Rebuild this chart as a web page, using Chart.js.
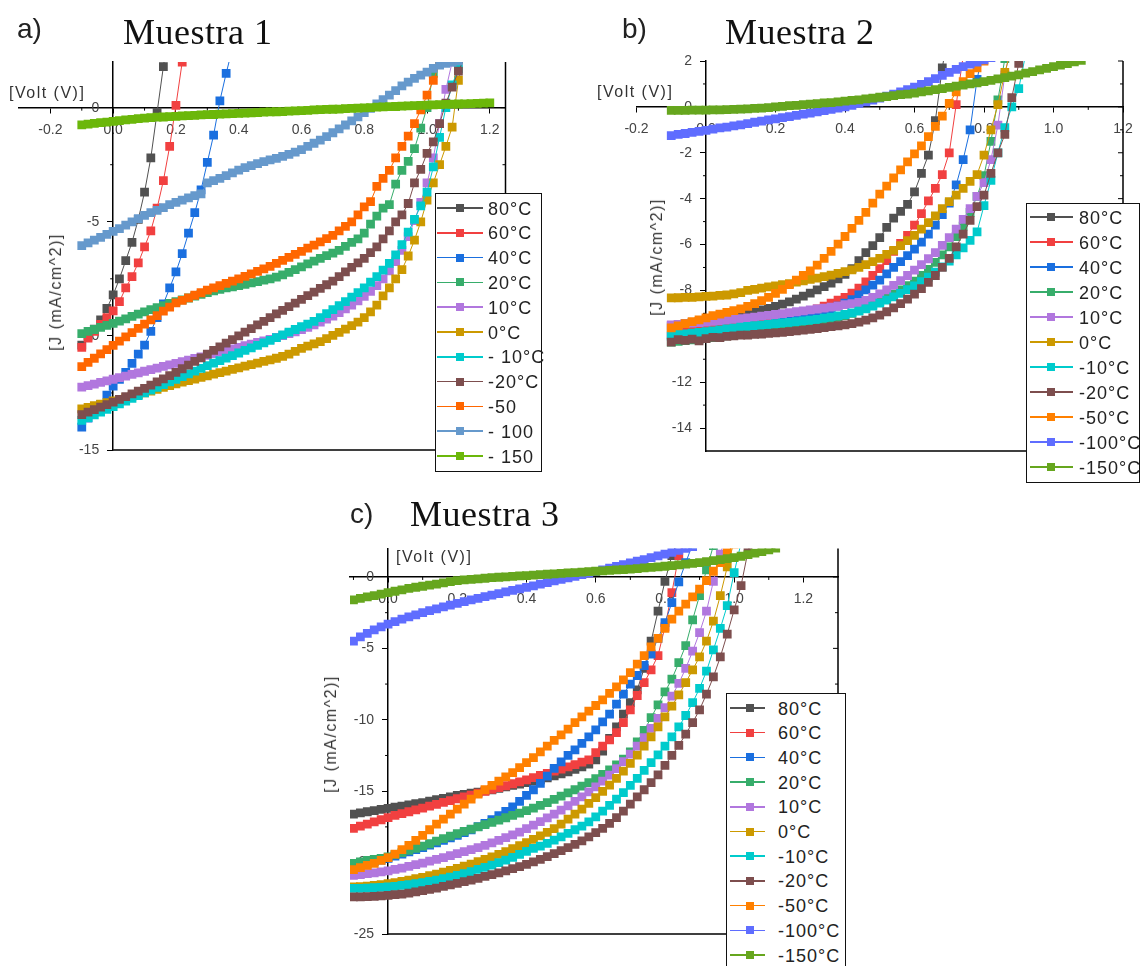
<!DOCTYPE html>
<html lang="es">
<head>
<meta charset="utf-8">
<title>Curvas J-V por temperatura</title>
<script src="https://cdn.jsdelivr.net/npm/chart.js@4.4.1/dist/chart.umd.min.js"></script>
<style>
  html, body { margin: 0; background: #fff; }
  #fig { position: relative; width: 1143px; height: 966px; overflow: hidden; font-family: Arial, "Liberation Sans", sans-serif; color: #222; }
  #fig canvas { position: absolute; }
  .tag { position: absolute; font-size: 28px; line-height: 1; color: #222; }
  .muestra { position: absolute; font-family: "Liberation Serif", "Times New Roman", serif; font-size: 36px; letter-spacing: 0.5px; line-height: 1; color: #111; }
  .xt { position: absolute; font-size: 16px; letter-spacing: 1.5px; line-height: 1; color: #333; white-space: nowrap; }
  .yt { position: absolute; font-size: 16px; letter-spacing: 1.5px; line-height: 1; color: #333; white-space: nowrap; transform: translate(-50%, -50%) rotate(-90deg); }
  .leyenda { position: absolute; box-sizing: border-box; border: 1.5px solid #111; background: #fff; }
  .leyenda .ln { position: absolute; height: 1.5px; }
  .leyenda .mk { position: absolute; width: 8px; height: 8px; }
  .leyenda .tx { position: absolute; font-size: 18px; letter-spacing: 1px; line-height: 1; white-space: nowrap; color: #222; }
</style>
</head>
<body>
<div id="fig">
  <canvas id="cA" width="560" height="440" style="left:0;top:40px"></canvas>
  <canvas id="cB" width="563" height="440" style="left:580px;top:40px"></canvas>
  <canvas id="cC" width="560" height="446" style="left:300px;top:520px"></canvas>

  <div class="tag" style="left:17px;top:15px">a)</div>
  <div class="muestra" style="left:123px;top:14px">Muestra 1</div>
  <div class="tag" style="left:622px;top:15px">b)</div>
  <div class="muestra" style="left:725px;top:14px">Muestra 2</div>
  <div class="tag" style="left:350px;top:500px">c)</div>
  <div class="muestra" style="left:410px;top:496px">Muestra 3</div>

  <div class="xt" style="left:9px;top:85px">[Volt (V)]</div>
  <div class="xt" style="left:597px;top:84px">[Volt (V)]</div>
  <div class="xt" style="left:396px;top:549px">[Volt (V)]</div>
  <div class="yt" style="left:56px;top:292px">[J (mA/cm^2)]</div>
  <div class="yt" style="left:657px;top:257px">[J (mA/cm^2)]</div>
  <div class="yt" style="left:331px;top:734px">[J (mA/cm^2)]</div>
</div>

<script>
// voltage sweep shared by every curve (V), each J array starts at -0.10 V
const voltage = [
  -0.10, -0.08, -0.06, -0.04, -0.02,
   0.00,  0.02,  0.04,  0.06,  0.08,
   0.10,  0.12,  0.14,  0.16,  0.18,
   0.20,  0.22,  0.24,  0.26,  0.28,
   0.30,  0.32,  0.34,  0.36,  0.38,
   0.40,  0.42,  0.44,  0.46,  0.48,
   0.50,  0.52,  0.54,  0.56,  0.58,
   0.60,  0.62,  0.64,  0.66,  0.68,
   0.70,  0.72,  0.74,  0.76,  0.78,
   0.80,  0.82,  0.84,  0.86,  0.88,
   0.90,  0.92,  0.94,  0.96,  0.98,
   1.00,  1.02,  1.04,  1.06,  1.08,
   1.10,  1.12,  1.14,  1.16,  1.18,
   1.20
];

// tick positions
const ticksV  = [-0.2, -0.1, 0, 0.1, 0.2, 0.3, 0.4, 0.5, 0.6, 0.7, 0.8, 0.9, 1.0, 1.1, 1.2];
const ticksJ1 = [-15, -12.5, -10, -7.5, -5, -2.5, 0];
const ticksJ2 = [-14, -13, -12, -11, -10, -9, -8, -7, -6, -5, -4, -3, -2, -1, 0, 1, 2];
const ticksJ3 = [-25, -22.5, -20, -17.5, -15, -12.5, -10, -7.5, -5, -2.5, 0];

// ---------- Muestra 1 : J (mA/cm^2) ----------
const m1_80 = [-10.4, -10.0, -9.7, -9.3, -8.8, -8.2, -7.5, -6.7, -5.9, -4.9, -3.7, -2.2, -0.2, 1.8, 3.6];
const m1_60 = [-10.5, -10.1, -9.8, -9.5, -9.2, -8.9, -8.5, -7.9, -7.4, -6.8, -6.1, -5.4, -4.4, -3.2, -1.7, 0.1, 2.0, 3.8];
const m1_40 = [-14.0, -13.6, -13.3, -13.0, -12.6, -12.2, -11.9, -11.6, -11.2, -10.8, -10.4, -9.8, -9.2, -8.6, -7.9,
  -7.2, -6.4, -5.5, -4.6, -3.6, -2.4, -1.2, 0.3, 1.5, 2.6];
const m1_20 = [-9.9, -9.8, -9.72, -9.63, -9.54, -9.45, -9.35, -9.25, -9.15, -9.05, -8.95, -8.85, -8.76, -8.67, -8.58,
  -8.5, -8.42, -8.34, -8.26, -8.18, -8.1, -8.03, -7.96, -7.9, -7.85, -7.8, -7.74, -7.68, -7.62, -7.56,
  -7.5, -7.43, -7.33, -7.22, -7.1, -6.98, -6.85, -6.72, -6.6, -6.48, -6.37, -6.25, -6.08, -5.9, -5.75,
  -5.5, -5.1, -4.75, -4.4, -4.25, -3.35, -2.75, -2.35, -1.8, -0.9, 0.0, 1.5, 2.6];
const m1_10 = [-12.25, -12.18, -12.11, -12.04, -11.97, -11.9, -11.83, -11.76, -11.69, -11.62, -11.55, -11.48, -11.41, -11.34, -11.27,
  -11.2, -11.13, -11.06, -10.99, -10.92, -10.85, -10.78, -10.71, -10.64, -10.57, -10.5, -10.43, -10.36, -10.29, -10.22,
  -10.15, -10.07, -9.99, -9.9, -9.82, -9.73, -9.63, -9.52, -9.4, -9.27, -9.13, -8.98, -8.82, -8.65, -8.47,
  -8.27, -8.05, -7.8, -7.5, -7.15, -6.75, -6.25, -5.65, -4.95, -4.15, -3.3, -2.2, -0.7, 0.8, 2.0];
const m1_0 = [-13.2, -13.13, -13.06, -12.99, -12.92, -12.85, -12.78, -12.71, -12.64, -12.57, -12.5, -12.42, -12.34, -12.26, -12.18,
  -12.1, -12.03, -11.96, -11.89, -11.82, -11.75, -11.68, -11.61, -11.54, -11.47, -11.4, -11.33, -11.26, -11.19, -11.12,
  -11.05, -10.98, -10.9, -10.8, -10.68, -10.55, -10.45, -10.35, -10.25, -10.12, -9.98, -9.85, -9.7, -9.55, -9.4,
  -9.2, -8.95, -8.65, -8.25, -7.9, -7.5, -7.1, -6.5, -5.8, -5.0, -4.05, -3.3, -2.5, -1.7, -0.85, 1.2, 2.5];
const m1_n10 = [-13.7, -13.58, -13.46, -13.34, -13.22, -13.1, -12.98, -12.86, -12.74, -12.62, -12.5, -12.38, -12.26, -12.14, -12.02,
  -11.9, -11.78, -11.66, -11.54, -11.42, -11.3, -11.19, -11.08, -10.97, -10.86, -10.75, -10.64, -10.53, -10.42, -10.31,
  -10.2, -10.08, -9.96, -9.84, -9.72, -9.6, -9.48, -9.36, -9.2, -9.02, -8.85, -8.68, -8.5, -8.3, -8.1,
  -7.9, -7.65, -7.4, -7.12, -6.82, -6.45, -6.0, -5.45, -4.9, -4.3, -3.7, -2.6, -1.3, 0.0, 1.0, 1.7, 2.4];
const m1_n20 = [-13.45, -13.34, -13.23, -13.12, -13.01, -12.9, -12.78, -12.66, -12.54, -12.42, -12.3, -12.16, -12.02, -11.88, -11.74,
  -11.6, -11.44, -11.28, -11.12, -10.96, -10.8, -10.64, -10.48, -10.32, -10.16, -10.0, -9.84, -9.68, -9.52, -9.36,
  -9.2, -9.04, -8.88, -8.72, -8.56, -8.4, -8.24, -8.08, -7.92, -7.76, -7.6, -7.4, -7.2, -7.0, -6.8,
  -6.6, -6.35, -6.1, -5.75, -5.4, -5.0, -4.7, -4.2, -3.3, -2.7, -2.0, -1.5, -0.7, 0.2, 0.9, 1.6, 2.2];
const m1_n50 = [-11.35, -11.16, -10.98, -10.79, -10.6, -10.42, -10.23, -10.04, -9.86, -9.67, -9.48, -9.3, -9.11, -8.92, -8.74,
  -8.55, -8.44, -8.33, -8.22, -8.11, -8.0, -7.9, -7.8, -7.7, -7.6, -7.5, -7.39, -7.28, -7.17, -7.06,
  -6.95, -6.82, -6.69, -6.56, -6.43, -6.3, -6.16, -6.02, -5.88, -5.74, -5.6, -5.4, -5.2, -5.0, -4.7,
  -4.35, -4.12, -3.45, -3.1, -2.75, -2.2, -1.7, -1.25, -0.7, -0.1, 0.55, 1.2, 1.9, 2.6];
const m1_n100 = [-6.05, -5.92, -5.8, -5.68, -5.55, -5.42, -5.3, -5.15, -5.0, -4.86, -4.72, -4.6, -4.5, -4.38, -4.25,
  -4.15, -4.05, -3.95, -3.85, -3.78, -3.3, -3.2, -3.1, -2.98, -2.86, -2.74, -2.63, -2.54, -2.45, -2.37,
  -2.29, -2.22, -2.14, -2.05, -1.95, -1.84, -1.7, -1.56, -1.42, -1.27, -1.1, -0.93, -0.76, -0.58, -0.4,
  -0.22, -0.03, 0.16, 0.35, 0.55, 0.75, 0.95, 1.12, 1.28, 1.42, 1.56, 1.72, 1.86, 1.94, 2.0, 2.05];
const m1_n150 = [-0.75, -0.72, -0.69, -0.66, -0.63, -0.6, -0.57, -0.54, -0.51, -0.48, -0.46, -0.44, -0.42, -0.41, -0.39,
  -0.38, -0.36, -0.35, -0.34, -0.32, -0.31, -0.3, -0.28, -0.27, -0.26, -0.25, -0.24, -0.23, -0.22, -0.2,
  -0.19, -0.18, -0.17, -0.15, -0.14, -0.13, -0.12, -0.1, -0.09, -0.08, -0.07, -0.06, -0.04, -0.03, -0.02,
  -0.01, 0.0, 0.02, 0.03, 0.04, 0.05, 0.07, 0.08, 0.09, 0.1, 0.11, 0.12, 0.13, 0.14, 0.15,
  0.16, 0.17, 0.18, 0.19, 0.2, 0.21];

// ---------- Muestra 2 ----------
const m2_80 = [-9.55, -9.5, -9.45, -9.4, -9.35, -9.3, -9.25, -9.2, -9.15, -9.1, -9.05, -9.0, -8.93, -8.85, -8.78,
  -8.7, -8.6, -8.5, -8.38, -8.25, -8.12, -7.98, -7.83, -7.68, -7.5, -7.3, -7.05, -6.7, -6.35, -6.05,
  -5.7, -5.25, -4.85, -4.55, -4.25, -3.7, -2.9, -2.1, -0.6, 1.7, 3.5];
const m2_60 = [-9.9, -9.86, -9.82, -9.78, -9.74, -9.7, -9.66, -9.62, -9.58, -9.54, -9.5, -9.44, -9.38, -9.32, -9.26,
  -9.2, -9.14, -9.08, -9.02, -8.96, -8.9, -8.8, -8.68, -8.55, -8.42, -8.3, -8.12, -7.9, -7.63, -7.35,
  -7.05, -6.7, -6.3, -5.95, -5.6, -5.15, -4.65, -4.1, -3.55, -2.95, -2.0, 0.1, 2.2];
const m2_40 = [-10.0, -9.97, -9.94, -9.91, -9.88, -9.85, -9.82, -9.79, -9.76, -9.73, -9.7, -9.65, -9.6, -9.55, -9.5,
  -9.45, -9.38, -9.31, -9.24, -9.17, -9.1, -9.0, -8.9, -8.8, -8.68, -8.55, -8.4, -8.2, -7.98, -7.77,
  -7.55, -7.28, -7.0, -6.75, -6.48, -6.2, -5.9, -5.55, -5.15, -4.7, -4.2, -3.4, -2.3, -1.0, 1.2, 2.6];
const m2_20 = [-10.25, -10.22, -10.19, -10.16, -10.13, -10.1, -10.06, -10.02, -9.98, -9.94, -9.9, -9.86, -9.82, -9.78, -9.74,
  -9.7, -9.65, -9.6, -9.55, -9.5, -9.45, -9.38, -9.31, -9.24, -9.17, -9.1, -9.0, -8.88, -8.76, -8.63,
  -8.5, -8.33, -8.16, -7.98, -7.79, -7.6, -7.35, -7.08, -6.78, -6.45, -6.1, -5.65, -5.2, -4.6, -3.9,
  -3.0, -1.5, 0.3, 2.1];
const m2_10 = [-9.5, -9.48, -9.45, -9.43, -9.4, -9.38, -9.35, -9.32, -9.29, -9.26, -9.23, -9.2, -9.16, -9.12, -9.09,
  -9.05, -9.01, -8.97, -8.93, -8.89, -8.85, -8.81, -8.77, -8.73, -8.69, -8.62, -8.58, -8.52, -8.43, -8.3,
  -8.15, -7.98, -7.78, -7.57, -7.35, -7.12, -6.88, -6.62, -6.35, -6.04, -5.7, -5.33, -4.9, -4.43, -3.9,
  -3.3, -2.3, -0.8, 1.4, 2.8];
const m2_0 = [-8.33, -8.32, -8.3, -8.3, -8.28, -8.26, -8.25, -8.22, -8.2, -8.15, -8.1, -8.0, -7.95, -7.9, -7.85,
  -7.8, -7.75, -7.7, -7.64, -7.58, -7.52, -7.46, -7.4, -7.33, -7.26, -7.18, -7.1, -7.0, -6.88, -6.75,
  -6.6, -6.43, -6.25, -6.05, -5.83, -5.6, -5.33, -5.05, -4.75, -4.43, -4.13, -3.85, -3.55, -3.25, -2.95,
  -2.1, -1.0, 0.1, 1.5, 2.6];
const m2_n10 = [-9.95, -9.92, -9.89, -9.86, -9.83, -9.8, -9.76, -9.72, -9.68, -9.64, -9.6, -9.57, -9.54, -9.51, -9.48,
  -9.45, -9.42, -9.39, -9.36, -9.33, -9.3, -9.26, -9.21, -9.16, -9.11, -9.05, -8.98, -8.9, -8.8, -8.68,
  -8.55, -8.42, -8.28, -8.13, -7.97, -7.8, -7.62, -7.42, -7.2, -6.97, -6.72, -6.45, -6.15, -5.82, -5.45,
  -4.3, -3.2, -2.0, -0.9, 0.0, 0.8, 2.3];
const m2_n20 = [-10.25, -10.15, -10.18, -10.12, -10.2, -10.1, -10.05, -10.06, -10.0, -9.98, -9.95, -9.95, -9.92, -9.9, -9.87,
  -9.85, -9.83, -9.8, -9.76, -9.73, -9.7, -9.66, -9.62, -9.58, -9.54, -9.5, -9.45, -9.38, -9.3, -9.2,
  -9.08, -8.93, -8.76, -8.58, -8.38, -8.16, -7.92, -7.65, -7.35, -7.0, -6.6, -6.1, -5.55, -4.95, -4.35,
  -3.85, -2.9, -2.0, -1.2, 0.4, 1.9, 3.0];
const m2_n50 = [-9.63, -9.55, -9.45, -9.36, -9.28, -9.2, -9.1, -9.03, -8.96, -8.88, -8.8, -8.7, -8.58, -8.45, -8.3,
  -8.13, -7.95, -7.75, -7.55, -7.35, -7.15, -6.9, -6.6, -6.3, -5.98, -5.65, -5.3, -4.95, -4.6, -4.2,
  -3.8, -3.45, -3.1, -2.75, -2.4, -2.05, -1.7, -1.3, -0.85, -0.4, 0.15, 0.65, 1.1, 1.45, 1.7,
  2.0, 2.3];
const m2_n100 = [-1.25, -1.2, -1.16, -1.11, -1.07, -1.02, -0.97, -0.92, -0.88, -0.83, -0.78, -0.73, -0.67, -0.62, -0.57,
  -0.52, -0.47, -0.42, -0.37, -0.32, -0.27, -0.22, -0.16, -0.11, -0.05, 0.0, 0.07, 0.15, 0.22, 0.3,
  0.38, 0.47, 0.56, 0.65, 0.75, 0.86, 0.98, 1.1, 1.23, 1.37, 1.5, 1.63, 1.75, 1.86, 1.95,
  2.05, 2.15];
const m2_n150 = [-0.15, -0.15, -0.15, -0.14, -0.14, -0.14, -0.13, -0.13, -0.12, -0.11, -0.1, -0.09, -0.07, -0.05, -0.03,
  0.0, 0.02, 0.05, 0.07, 0.1, 0.12, 0.14, 0.17, 0.19, 0.22, 0.25, 0.28, 0.31, 0.35, 0.38,
  0.42, 0.45, 0.49, 0.53, 0.56, 0.6, 0.65, 0.7, 0.75, 0.8, 0.85, 0.9, 0.95, 1.0, 1.05,
  1.1, 1.16, 1.22, 1.28, 1.34, 1.4, 1.47, 1.54, 1.61, 1.68, 1.75, 1.82, 1.89, 1.96, 2.03];

// ---------- Muestra 3 ----------
const m3_80 = [-16.6, -16.52, -16.44, -16.36, -16.28, -16.2, -16.12, -16.04, -15.96, -15.88, -15.8, -15.7, -15.6, -15.5, -15.4,
  -15.3, -15.22, -15.14, -15.06, -14.98, -14.9, -14.8, -14.7, -14.6, -14.5, -14.4, -14.3, -14.2, -14.06, -13.92,
  -13.78, -13.64, -13.48, -13.3, -13.1, -12.8, -12.2, -11.3, -10.5, -9.6, -8.8, -7.9, -6.4, -4.5, -2.4,
  -0.3, 1.5, 2.8];
const m3_60 = [-17.6, -17.45, -17.3, -17.15, -17.0, -16.85, -16.7, -16.57, -16.44, -16.31, -16.18, -16.05, -15.92, -15.79, -15.66,
  -15.53, -15.4, -15.27, -15.14, -15.01, -14.88, -14.75, -14.62, -14.48, -14.34, -14.2, -14.05, -13.9, -13.75, -13.6,
  -13.45, -13.3, -13.14, -12.97, -12.8, -12.3, -11.85, -11.4, -10.9, -10.2, -9.3, -8.3, -7.4, -6.5, -5.5,
  -3.5, -1.1, 1.5, 3.0];
const m3_40 = [-20.3, -20.18, -20.06, -19.94, -19.82, -19.7, -19.55, -19.4, -19.25, -19.1, -18.95, -18.78, -18.61, -18.44, -18.27,
  -18.1, -17.9, -17.7, -17.48, -17.25, -17.0, -16.72, -16.42, -16.1, -15.72, -15.3, -14.9, -14.45, -13.95, -13.4,
  -12.95, -12.5, -12.1, -11.65, -11.2, -10.7, -10.15, -9.6, -8.9, -8.2, -7.5, -6.9, -6.2, -5.4, -4.3,
  -3.2, -1.8, -0.35, 1.0, 2.3];
const m3_20 = [-20.05, -19.95, -19.85, -19.78, -19.7, -19.6, -19.45, -19.3, -19.15, -19.0, -18.85, -18.68, -18.5, -18.32, -18.15,
  -17.98, -17.82, -17.66, -17.5, -17.34, -17.18, -17.02, -16.86, -16.7, -16.53, -16.36, -16.18, -16.0, -15.8, -15.58,
  -15.35, -15.12, -14.9, -14.65, -14.4, -14.12, -13.82, -13.5, -13.15, -12.75, -12.25, -11.55, -10.75, -9.85, -8.95,
  -8.05, -7.15, -6.0, -4.8, -3.0, -1.3, 0.5, 2.2];
const m3_10 = [-20.9, -20.85, -20.78, -20.72, -20.65, -20.58, -20.48, -20.38, -20.27, -20.15, -20.03, -19.9, -19.78, -19.65, -19.52,
  -19.38, -19.24, -19.1, -18.95, -18.8, -18.62, -18.44, -18.25, -18.06, -17.86, -17.62, -17.38, -17.13, -16.87, -16.6,
  -16.32, -16.02, -15.72, -15.4, -15.05, -14.7, -14.3, -13.88, -13.42, -12.93, -12.4, -11.85, -11.25, -10.6, -9.9,
  -9.15, -8.35, -7.45, -6.4, -5.2, -3.9, -2.4, -0.3, 1.6, 3.2];
const m3_0 = [-21.7, -21.68, -21.65, -21.6, -21.55, -21.48, -21.4, -21.32, -21.23, -21.13, -21.03, -20.92, -20.8, -20.67, -20.54,
  -20.4, -20.25, -20.1, -19.94, -19.78, -19.6, -19.42, -19.23, -19.03, -18.82, -18.6, -18.37, -18.13, -17.88, -17.62,
  -17.3, -16.95, -16.6, -16.25, -15.85, -15.45, -15.02, -14.57, -14.1, -13.6, -13.05, -12.47, -11.85, -11.2, -10.5,
  -9.8, -9.05, -8.25, -7.4, -6.5, -5.6, -4.5, -3.1, -1.3, 0.7, 2.5];
const m3_n10 = [-21.8, -21.8, -21.78, -21.76, -21.73, -21.7, -21.66, -21.6, -21.54, -21.47, -21.4, -21.32, -21.23, -21.13, -21.02,
  -20.9, -20.77, -20.63, -20.48, -20.33, -20.17, -20.0, -19.82, -19.63, -19.43, -19.22, -19.0, -18.85, -18.65, -18.43,
  -18.2, -17.95, -17.7, -17.45, -17.15, -16.8, -16.4, -16.0, -15.55, -15.1, -14.6, -14.1, -13.55, -13.0, -12.45,
  -11.85, -11.2, -10.5, -9.7, -8.8, -7.8, -6.6, -5.1, -3.6, -2.0, 0.3, 2.4];
const m3_n20 = [-22.4, -22.4, -22.38, -22.36, -22.33, -22.3, -22.25, -22.2, -22.13, -22.05, -21.97, -21.88, -21.78, -21.67, -21.56,
  -21.45, -21.34, -21.22, -21.1, -20.97, -20.85, -20.72, -20.58, -20.43, -20.28, -20.12, -19.95, -19.77, -19.58, -19.38,
  -19.17, -18.95, -18.72, -18.48, -18.2, -17.9, -17.6, -17.25, -16.85, -16.4, -15.9, -15.4, -14.9, -14.4, -13.85,
  -13.2, -12.5, -11.8, -11.0, -10.2, -9.3, -8.2, -7.0, -5.6, -4.0, -2.3, -0.6, 1.8, 3.2];
const m3_n50 = [-20.5, -20.35, -20.2, -20.05, -19.85, -19.65, -19.4, -19.1, -18.8, -18.45, -18.1, -17.7, -17.3, -16.95, -16.6,
  -16.25, -15.9, -15.55, -15.2, -14.9, -14.6, -14.3, -14.0, -13.7, -13.35, -13.0, -12.65, -12.25, -11.85, -11.45,
  -11.05, -10.65, -10.2, -9.8, -9.4, -9.0, -8.6, -8.15, -7.7, -7.2, -6.7, -6.1, -5.5, -4.9, -4.3,
  -3.6, -2.95, -2.4, -1.9, -1.4, -0.85, -0.25, 0.4, 1.0, 1.7, 2.3];
const m3_n100 = [-4.5, -4.2, -3.95, -3.7, -3.5, -3.3, -3.12, -2.95, -2.8, -2.65, -2.5, -2.36, -2.23, -2.1, -1.97,
  -1.85, -1.73, -1.61, -1.5, -1.38, -1.27, -1.16, -1.05, -0.94, -0.84, -0.73, -0.62, -0.5, -0.4, -0.28,
  -0.17, -0.06, 0.05, 0.16, 0.27, 0.38, 0.5, 0.62, 0.74, 0.86, 0.98, 1.1, 1.22, 1.35, 1.48,
  1.6, 1.73, 1.86, 2.0, 2.12];
const m3_n150 = [-1.6, -1.5, -1.4, -1.3, -1.2, -1.1, -1.0, -0.9, -0.8, -0.72, -0.65, -0.57, -0.5, -0.42, -0.33,
  -0.25, -0.21, -0.17, -0.13, -0.09, -0.05, -0.02, 0.01, 0.04, 0.07, 0.1, 0.13, 0.16, 0.19, 0.22,
  0.25, 0.28, 0.31, 0.34, 0.37, 0.4, 0.43, 0.46, 0.49, 0.52, 0.55, 0.59, 0.63, 0.67, 0.71,
  0.75, 0.8, 0.85, 0.9, 0.95, 1.0, 1.07, 1.14, 1.21, 1.28, 1.35, 1.45, 1.56, 1.67, 1.78,
  1.9, 2.02];

// legend texts and colours
const nombresA = ['80°C', '60°C', '40°C', '20°C', '10°C', '0°C', '- 10°C', '-20°C', '-50', '- 100', '- 150'];
const nombresBC = ['80°C', '60°C', '40°C', '20°C', '10°C', '0°C', '-10°C', '-20°C', '-50°C', '-100°C', '-150°C'];
const coloresA = ['#515151', '#F14040', '#1A6FDF', '#37AD6B', '#B177DE', '#CC9900', '#00CBCC', '#7D4E4E', '#FF6600', '#6699CC', '#6BB70A'];
const coloresBC = ['#515151', '#F14040', '#1A6FDF', '#37AD6B', '#B177DE', '#CC9900', '#00CBCC', '#7D4E4E', '#FF8000', '#5F6DFF', '#66A61E'];

const panels = [
  {
    id: 'cA', names: nombresA, colors: coloresA,
    series: [m1_80, m1_60, m1_40, m1_20, m1_10, m1_0, m1_n10, m1_n20, m1_n50, m1_n100, m1_n150],
    xRange: [-0.3, 1.25], yRange: [-15, 2], yTicks: ticksJ1, yEvery: 5,
    padding: { left: 19, right: 54.5, top: 22, bottom: 30 },
    legend: { left: 435, top: 193, width: 107, height: 279, first: 14, step: 24.8, line: [1, 47], mark: 24, text: 52 }
  },
  {
    id: 'cB', names: nombresBC, colors: coloresBC,
    series: [m2_80, m2_60, m2_40, m2_20, m2_10, m2_0, m2_n10, m2_n20, m2_n50, m2_n100, m2_n150],
    xRange: [-0.2, 1.2], yRange: [-15, 2], yTicks: ticksJ2, yEvery: 2,
    padding: { left: 56.5, right: 20, top: 21, bottom: 29 },
    legend: { left: 1026, top: 203, width: 114, height: 280, first: 13, step: 25, line: [3, 46], mark: 24, text: 52 }
  },
  {
    id: 'cC', names: nombresBC, colors: coloresBC,
    series: [m3_80, m3_60, m3_40, m3_20, m3_10, m3_0, m3_n10, m3_n20, m3_n50, m3_n100, m3_n150],
    xRange: [-0.11, 1.3], yRange: [-25, 2], yTicks: ticksJ3, yEvery: 5,
    padding: { left: 50, right: 22, top: 28.4, bottom: 32 },
    legend: { left: 726, top: 693, width: 120, height: 290, first: 14, step: 24.7, line: [3, 38], mark: 23, text: 51 }
  }
];

function curve(j) {
  return j.map((v, i) => ({ x: voltage[i], y: v }));
}

// a tick is "major" when the scale gives it a label
const isMajor = t => t && t.label !== '' && t.label !== undefined;
const majorColor = c => (isMajor(c.tick) ? '#000' : 'rgba(0,0,0,0)');

// bottom and right spines, short minor ticks, inward ticks on the right spine
const frame = {
  id: 'frame',
  beforeDatasetsDraw(chart) {
    const { ctx, chartArea: a, scales: { x, y } } = chart;
    const x0 = x.getPixelForValue(0);
    const y0 = y.getPixelForValue(0);
    ctx.save();
    ctx.strokeStyle = '#000';
    ctx.lineWidth = 1.5;
    ctx.beginPath();
    ctx.moveTo(x0, a.bottom);
    ctx.lineTo(a.right, a.bottom);
    ctx.lineTo(a.right, a.top);
    ctx.stroke();
    ctx.lineWidth = 1;
    ctx.beginPath();
    y.ticks.forEach(t => {
      const py = y.getPixelForValue(t.value);
      ctx.moveTo(a.right, py);
      ctx.lineTo(a.right - (isMajor(t) ? 5 : 3), py);
      if (!isMajor(t)) {
        ctx.moveTo(x0, py);
        ctx.lineTo(x0 - 3, py);
      }
    });
    x.ticks.forEach(t => {
      if (isMajor(t)) return;
      const px = x.getPixelForValue(t.value);
      ctx.moveTo(px, y0);
      ctx.lineTo(px, y0 + 3);
    });
    ctx.stroke();
    ctx.restore();
  }
};

const tickFont = { family: 'Arial, "Liberation Sans", sans-serif', size: 14 };
const gap = '\u2002\u2002';

function leyenda(chart, box) {
  const caja = document.createElement('div');
  caja.className = 'leyenda';
  caja.style.cssText = `left:${box.left}px;top:${box.top}px;width:${box.width}px;height:${box.height}px`;
  chart.data.datasets.forEach((ds, i) => {
    const cy = box.first + i * box.step;
    const ln = document.createElement('div');
    ln.className = 'ln';
    ln.style.cssText = `left:${box.line[0]}px;width:${box.line[1] - box.line[0]}px;top:${cy - 0.75}px;background:${ds.borderColor}`;
    const mk = document.createElement('div');
    mk.className = 'mk';
    mk.style.cssText = `left:${box.mark - 4}px;top:${cy - 4}px;background:${ds.borderColor}`;
    const tx = document.createElement('div');
    tx.className = 'tx';
    tx.style.cssText = `left:${box.text}px;top:${cy - 8.5}px`;
    tx.textContent = ds.label;
    caja.append(ln, mk, tx);
  });
  document.getElementById('fig').appendChild(caja);
}

panels.forEach(p => {
  const n = p.series.length;
  const datasets = p.series.map((s, i) => ({
    label: p.names[i],
    data: curve(s),
    showLine: true,
    borderColor: p.colors[i],
    backgroundColor: p.colors[i],
    borderWidth: 1,
    pointStyle: 'rect',
    pointRadius: 6.2,
    pointBorderWidth: 0,
    pointBackgroundColor: p.colors[i],
    order: n - i,
    clip: 0
  }));

  const chart = new Chart(document.getElementById(p.id), {
    type: 'scatter',
    data: { datasets },
    plugins: [frame],
    options: {
      responsive: false,
      animation: false,
      devicePixelRatio: 1,
      events: [],
      layout: { padding: p.padding },
      plugins: { legend: { display: false }, tooltip: { enabled: false } },
      scales: {
        x: {
          type: 'linear',
          position: { y: 0 },
          min: p.xRange[0],
          max: p.xRange[1],
          afterBuildTicks: axis => {
            axis.ticks = ticksV.filter(v => v >= axis.min - 1e-9 && v <= axis.max + 1e-9).map(v => ({ value: v }));
          },
          ticks: {
            autoSkip: false, maxRotation: 0, padding: 9, color: '#444', font: tickFont,
            callback: v => {
              const r = Math.round(v * 10);
              return r % 2 === 0 ? (r / 10).toFixed(1) : '';
            }
          },
          grid: { drawOnChartArea: false, drawTicks: true, tickLength: 5, color: '#000', tickColor: majorColor },
          border: { color: '#000', width: 1.5 }
        },
        y: {
          type: 'linear',
          position: { x: 0 },
          min: p.yRange[0],
          max: p.yRange[1],
          afterBuildTicks: axis => {
            axis.ticks = p.yTicks.map(v => ({ value: v }));
          },
          ticks: {
            autoSkip: false, padding: 2, color: '#444', font: tickFont,
            callback: v => {
              const k = v / p.yEvery;
              return Math.abs(k - Math.round(k)) < 1e-6 ? String(Math.round(v)) + gap : '';
            }
          },
          grid: { drawOnChartArea: false, drawTicks: true, tickLength: 5, color: '#000', tickColor: majorColor },
          border: { color: '#000', width: 1.5 }
        }
      }
    }
  });

  leyenda(chart, p.legend);
});
</script>
</body>
</html>
